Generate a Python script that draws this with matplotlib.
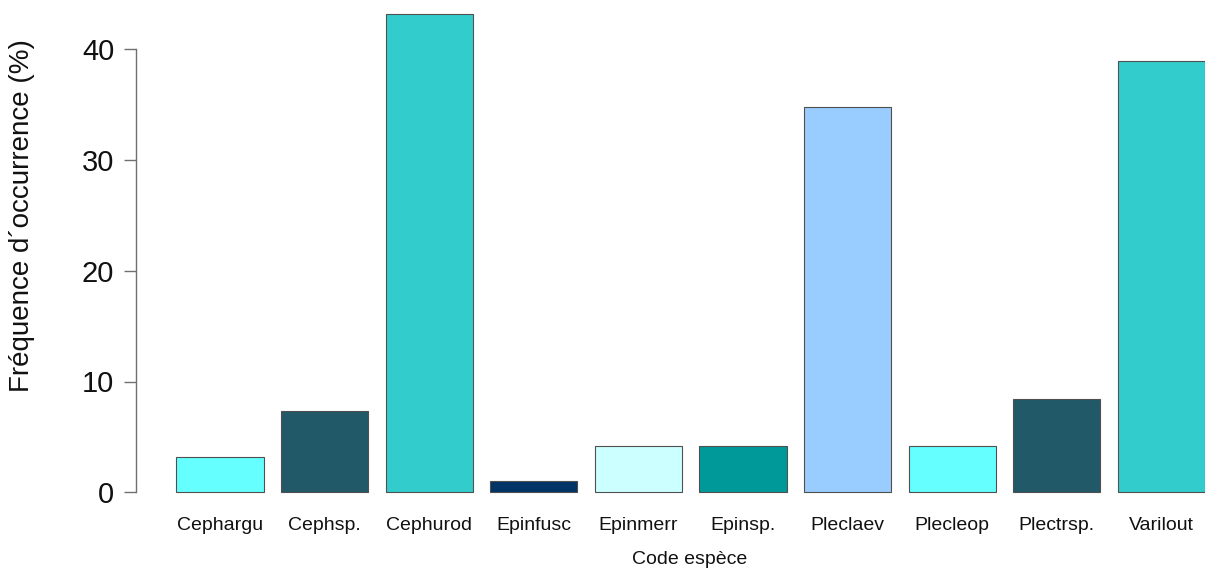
import matplotlib
matplotlib.use("Agg")
import matplotlib.pyplot as plt
import numpy as np

categories = ["Cephargu", "Cephsp.", "Cephurod", "Epinfusc", "Epinmerr",
              "Epinsp.", "Pleclaev", "Plecleop", "Plectrsp.", "Varilout"]
values = [3.16, 7.37, 43.16, 1.05, 4.21, 4.21, 34.74, 4.21, 8.42, 38.95]
colors = ["#66FFFF", "#215968", "#33CCCC", "#003366", "#CCFFFF",
          "#009999", "#99CCFF", "#66FFFF", "#215968", "#33CCCC"]
yticks = [0, 10, 20, 30, 40]

plt.rcParams['font.family'] = ['Liberation Sans', 'DejaVu Sans']

W, H = 1205, 569
fig = plt.figure(figsize=(W / 100, H / 100), dpi=100)
ax = fig.add_axes([136 / W, 1 - 500 / H, 1 - 136 / W, 500 / H])

pitch = 1.2
x = np.arange(len(categories)) * pitch
bars = ax.bar(x, values, width=1.0, color=colors, edgecolor="#505050",
              linewidth=0.8, clip_on=False)

ax.set_xlim((136 - 220) / 87.17, (1205 - 220) / 87.17)
ax.set_ylim(-(500 - 492.3) / 11.08, 492.3 / 11.08)

for s in ["top", "right", "bottom"]:
    ax.spines[s].set_visible(False)
ax.spines["left"].set_bounds(0, 40)
ax.spines["left"].set_color("#707070")
ax.spines["left"].set_linewidth(1.0)

ax.set_yticks(yticks)
ax.set_yticklabels([str(t) for t in yticks])
ax.tick_params(axis="y", direction="out", length=8.6, width=1.0,
               color="#707070", labelsize=21, pad=7, labelcolor="#111111")
ax.set_xticks(x)
ax.set_xticklabels(categories)
ax.tick_params(axis="x", length=0, labelsize=14, pad=12, labelcolor="#111111")

fig.text(690 / W, 1 - 560 / H, "Code espèce", ha="center", va="center",
         fontsize=14, color="#111111")
fig.text(22 / W, 1 - 216 / H, "Fréquence d´occurrence (%)", ha="center",
         va="center", rotation=90, fontsize=20, color="#111111")

fig.savefig("out.png", dpi=100, facecolor="white")
